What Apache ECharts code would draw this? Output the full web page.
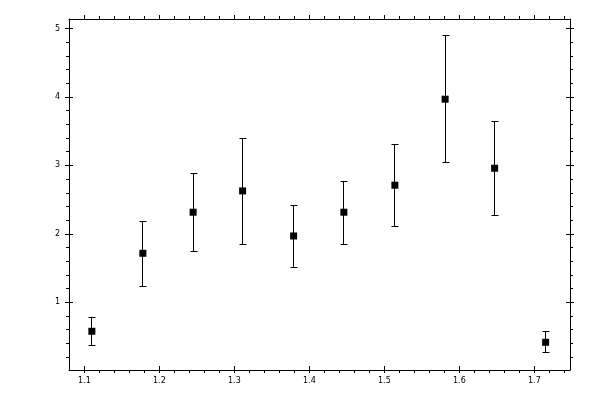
<!DOCTYPE html>
<html>
<head>
<meta charset="utf-8">
<script src="https://cdn.jsdelivr.net/npm/echarts@6/dist/echarts.min.js"></script>
<style>
html,body{margin:0;padding:0;background:#fff;}
#c{width:600px;height:400px;}
</style>
</head>
<body>
<div id="c"></div>
<script>
// Data
const xValues = [1.110, 1.178, 1.245, 1.311, 1.379, 1.446, 1.514, 1.581, 1.647, 1.715];
const yValues = [0.576, 1.716, 2.316, 2.627, 1.969, 2.316, 2.711, 3.968, 2.959, 0.415];
const yLow    = [0.371, 1.234, 1.746, 1.848, 1.512, 1.848, 2.111, 3.047, 2.272, 0.259];
const yHigh   = [0.781, 2.184, 2.886, 3.392, 2.418, 2.769, 3.310, 4.904, 3.646, 0.576];

// Tick labels / tick positions
const xMajorTicks = [1.1, 1.2, 1.3, 1.4, 1.5, 1.6, 1.7];
const xMinorTicks = [1.12, 1.14, 1.16, 1.18, 1.22, 1.24, 1.26, 1.28, 1.32, 1.34, 1.36, 1.38,
                     1.42, 1.44, 1.46, 1.48, 1.52, 1.54, 1.56, 1.58, 1.62, 1.64, 1.66, 1.68, 1.72, 1.74];
const yMajorTicks = [1, 2, 3, 4, 5];
const yMinorTicks = [0.2, 0.4, 0.6, 0.8, 1.2, 1.4, 1.6, 1.8, 2.2, 2.4, 2.6, 2.8,
                     3.2, 3.4, 3.6, 3.8, 4.2, 4.4, 4.6, 4.8];

const X_MIN = 1.0795, X_MAX = 1.7475;
const Y_MIN = 0.01, Y_MAX = 5.14;

const BLACK = '#000';
const FONT = 'DejaVu Sans';

function gridBox() {
  return { left: 69, top: 19, right: 30, bottom: 30, containLabel: false, show: false };
}

function makeAxis(kind, gridIndex, position, opts) {
  const ticks = opts.ticks;
  return {
    type: 'value',
    gridIndex: gridIndex,
    position: position,
    min: kind === 'x' ? X_MIN : Y_MIN,
    max: kind === 'x' ? X_MAX : Y_MAX,
    splitLine: { show: false },
    minorTick: { show: false },
    axisLine: { show: !!opts.line, onZero: false, lineStyle: { color: BLACK, width: 1 } },
    axisTick: {
      show: true,
      inside: !!opts.inside,
      length: opts.length,
      customValues: ticks,
      lineStyle: { color: BLACK, width: 1 }
    },
    axisLabel: opts.labels ? {
      show: true,
      customValues: ticks,
      color: BLACK,
      fontFamily: FONT,
      fontSize: 8,
      margin: kind === 'x' ? 7 : 9,
      formatter: function (v) { return kind === 'x' ? v.toFixed(1) : String(Math.round(v)); }
    } : { show: false }
  };
}

const chart = echarts.init(document.getElementById('c'), null, { renderer: 'canvas' });

const points = xValues.map((x, i) => [x, yValues[i]]);
const errs = xValues.map((x, i) => [x, yLow[i], yHigh[i]]);

function snap(v) { return Math.round(v - 0.5) + 0.5; }

chart.setOption({
  animation: false,
  backgroundColor: '#fff',
  grid: [gridBox(), gridBox(), gridBox()],
  xAxis: [
    makeAxis('x', 0, 'bottom', { ticks: xMajorTicks, length: 3, line: true, labels: true }),
    makeAxis('x', 0, 'top',    { ticks: xMajorTicks, length: 4, line: true }),
    makeAxis('x', 1, 'bottom', { ticks: xMajorTicks, length: 4, inside: true }),
    makeAxis('x', 1, 'top',    { ticks: xMinorTicks, length: 3 }),
    makeAxis('x', 2, 'bottom', { ticks: xMinorTicks, length: 3 })
  ],
  yAxis: [
    makeAxis('y', 0, 'left',  { ticks: yMajorTicks, length: 4, line: true, labels: true }),
    makeAxis('y', 0, 'right', { ticks: yMajorTicks, length: 4, line: true }),
    makeAxis('y', 1, 'left',  { ticks: yMajorTicks, length: 4, inside: true }),
    makeAxis('y', 1, 'right', { ticks: yMajorTicks, length: 4, inside: true }),
    makeAxis('y', 2, 'left',  { ticks: yMinorTicks, length: 3 }),
    makeAxis('y', 2, 'right', { ticks: yMinorTicks, length: 3 })
  ],
  series: [
    {
      type: 'custom',
      xAxisIndex: 0,
      yAxisIndex: 0,
      data: errs,
      renderItem: function (params, api) {
        const x = api.value(0);
        const lo = api.coord([x, api.value(1)]);
        const hi = api.coord([x, api.value(2)]);
        const cx = snap(lo[0]);
        const yl = snap(lo[1]);
        const yh = snap(hi[1]);
        const half = 3;
        const style = { stroke: BLACK, lineWidth: 1 };
        return {
          type: 'group',
          children: [
            { type: 'line', shape: { x1: cx, y1: yl, x2: cx, y2: yh }, style: style },
            { type: 'line', shape: { x1: cx - half, y1: yh, x2: cx + half + 1, y2: yh }, style: style },
            { type: 'line', shape: { x1: cx - half, y1: yl, x2: cx + half + 1, y2: yl }, style: style }
          ]
        };
      },
      encode: { x: 0, y: [1, 2] },
      z: 2
    },
    {
      type: 'scatter',
      xAxisIndex: 0,
      yAxisIndex: 0,
      data: points,
      symbol: 'rect',
      symbolSize: 7,
      itemStyle: { color: BLACK, opacity: 1 },
      z: 3
    }
  ]
});
</script>
</body>
</html>
